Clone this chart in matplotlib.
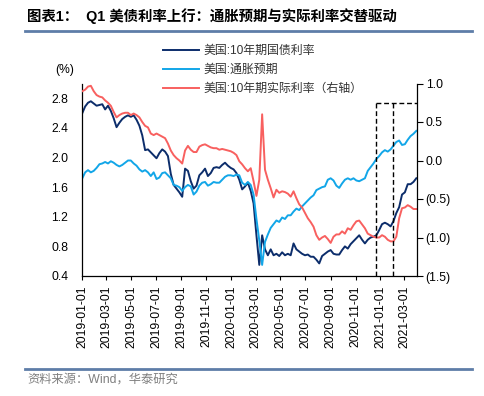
import pandas as pd
import matplotlib
matplotlib.use("Agg")
import matplotlib.pyplot as plt
import matplotlib.dates as mdates
from matplotlib.lines import Line2D

plt.rcParams['font.family'] = ['Liberation Sans', 'Noto Sans CJK SC']

# weekly readings, 2019-01-01 .. 2021-03-30
dates = pd.date_range('2019-01-01', periods=118, freq='7D')

nominal = [2.60, 2.69, 2.74, 2.76, 2.73, 2.70, 2.71, 2.72, 2.65, 2.70,
           2.63, 2.53, 2.41, 2.47, 2.52, 2.55, 2.57, 2.55, 2.57, 2.51,
           2.43, 2.30, 2.10, 2.11, 2.07, 2.03, 1.99, 2.06, 2.11,
           2.08, 2.02, 1.78, 1.63, 1.58, 1.53, 1.47, 1.85, 1.82, 1.68, 1.58,
           1.62, 1.76, 1.80, 1.85, 1.75, 1.79, 1.86, 1.87, 1.86, 1.90,
           1.93, 1.89, 1.86, 1.84, 1.79, 1.70, 1.57, 1.61, 1.66,
           1.55, 1.38, 0.95, 0.55, 0.95, 0.76, 0.68, 0.76, 0.68, 0.70,
           0.67, 0.72, 0.68, 0.70, 0.68, 0.84, 0.76, 0.73, 0.70, 0.68,
           0.69, 0.66, 0.66, 0.62, 0.57, 0.67, 0.70, 0.73, 0.75, 0.70,
           0.69, 0.69, 0.75, 0.80, 0.77, 0.83, 0.87, 0.91, 0.95, 0.89,
           0.84, 0.89, 0.92, 0.93, 0.95, 1.02, 1.10, 1.12, 1.10, 1.07,
           1.14, 1.25, 1.33, 1.50, 1.53, 1.64, 1.64, 1.67, 1.72]

breakeven = [1.72, 1.80, 1.83, 1.80, 1.82, 1.86, 1.91, 1.92, 1.94, 1.92,
             1.95, 1.93, 1.90, 1.88, 1.90, 1.93, 1.96, 1.96, 1.92, 1.89,
             1.84, 1.81, 1.83, 1.80, 1.75, 1.80, 1.71, 1.73, 1.79,
             1.80, 1.76, 1.72, 1.63, 1.62, 1.60, 1.55, 1.60, 1.63, 1.61, 1.50,
             1.54, 1.62, 1.66, 1.67, 1.62, 1.64, 1.67, 1.66, 1.66, 1.70,
             1.74, 1.76, 1.76, 1.75, 1.77, 1.76, 1.66, 1.63, 1.67,
             1.63, 1.50, 1.17, 0.88, 0.55, 0.86, 0.96, 1.05, 1.10, 1.15,
             1.13, 1.19, 1.17, 1.22, 1.22, 1.27, 1.31, 1.29, 1.34, 1.38,
             1.42, 1.46, 1.49, 1.56, 1.58, 1.60, 1.61, 1.70, 1.72, 1.69,
             1.62, 1.59, 1.65, 1.70, 1.72, 1.70, 1.72, 1.69, 1.68, 1.70,
             1.72, 1.82, 1.87, 1.92, 1.98, 2.02, 2.07, 2.10, 2.08, 2.11,
             2.16, 2.21, 2.23, 2.17, 2.18, 2.24, 2.29, 2.32, 2.36]

real_rate = [0.90, 0.92, 0.96, 0.97, 0.90, 0.85, 0.83, 0.82, 0.78, 0.75,
             0.71, 0.63, 0.56, 0.59, 0.61, 0.62, 0.62, 0.59, 0.61, 0.59,
             0.56, 0.50, 0.45, 0.43, 0.35, 0.33, 0.35, 0.33, 0.31,
             0.29, 0.22, 0.13, 0.07, 0.03, 0.00, -0.04, 0.13, 0.19, 0.14, 0.11,
             0.11, 0.18, 0.20, 0.21, 0.19, 0.17, 0.16, 0.16, 0.14, 0.15,
             0.14, 0.13, 0.12, 0.10, 0.07, -0.01, -0.05, -0.10, -0.14,
             -0.10, -0.27, -0.46, -0.25, 0.60, -0.12, -0.25, -0.36, -0.48, -0.38,
             -0.42, -0.40, -0.41, -0.43, -0.47, -0.40, -0.49, -0.57, -0.61, -0.68,
             -0.75, -0.80, -0.86, -0.97, -1.03, -1.00, -0.98, -1.02, -1.07, -0.99,
             -0.96, -0.96, -0.92, -0.95, -0.88, -0.90, -0.84, -0.79, -0.78, -0.83,
             -0.88, -0.95, -0.97, -0.99, -1.00, -1.00, -0.97, -0.99, -1.03, -1.05,
             -1.05, -0.99, -0.75, -0.62, -0.61, -0.58, -0.60, -0.63, -0.63]

labels = ['美国:10年期国债利率', '美国:通胀预期', '美国:10年期实际利率（右轴）']
left_ticks = [0.4, 0.8, 1.2, 1.6, 2.0, 2.4, 2.8]
right_ticks = [1.0, 0.5, 0.0, -0.5, -1.0, -1.5]
right_labels = ['1.0', '0.5', '0.0', '(0.5)', '(1.0)', '(1.5)']

# dashed box marking Q1 2021
box_start = pd.Timestamp('2020-12-22')
box_mid = pd.Timestamp('2021-02-01')
box_top = 0.75
x_end = pd.Timestamp('2021-03-31')

W, H = 485, 396
fig = plt.figure(figsize=(W / 100, H / 100), dpi=100)
ax = fig.add_axes([82.3 / W, 1 - 276 / H, (416.7 - 82.3) / W, (276 - 83.5) / H])
ax2 = ax.twinx()

l1, = ax.plot(dates, nominal, color='#0C2D6B', lw=1.4)
l2, = ax.plot(dates, breakeven, color='#12A6E8', lw=1.4)
l3, = ax2.plot(dates, real_rate, color='#F8605F', lw=1.4)

dash = dict(color='black', lw=1.0, ls=(0, (3.5, 2)))
ax2.plot([box_start, box_start], [-1.5, box_top], **dash)
ax2.plot([box_mid, box_mid], [-1.5, box_top], **dash)
ax2.plot([box_start, x_end], [box_top, box_top], **dash)

ax.set_xlim(dates[0], x_end)
ax.set_ylim(0.4, 3.0)
ax2.set_ylim(-1.5, 1.0)

ax.set_yticks(left_ticks)
ax.set_yticklabels([f'{t:.1f}' for t in left_ticks])
ax2.set_yticks(right_ticks)
ax2.set_yticklabels(right_labels)

ax.xaxis.set_major_locator(mdates.MonthLocator(bymonth=[1, 3, 5, 7, 9, 11]))
ax.xaxis.set_major_formatter(mdates.DateFormatter('%Y-%m-%d'))

ax.tick_params(axis='y', length=0, pad=10, labelsize=8.7)
ax.tick_params(axis='x', length=3, width=0.8, pad=4, labelsize=8.7, labelrotation=90)
ax2.tick_params(axis='y', length=4, width=0.8, pad=2.5, labelsize=8.7)

for a in (ax, ax2):
    a.spines['top'].set_visible(False)
    for s in a.spines.values():
        s.set_linewidth(0.9)
ax.spines['right'].set_visible(False)
ax2.spines['left'].set_visible(False)
ax2.spines['bottom'].set_visible(False)

fig.legend([l1, l2, l3], labels, loc='upper left',
           bbox_to_anchor=(162.7 / W, 1 - 45 / H), frameon=False,
           fontsize=8.6, handlelength=3.0, handletextpad=0.4,
           labelspacing=0.58, borderpad=0, borderaxespad=0,
           labelcolor='#333333')

fig.text(55 / W, 1 - 70 / H, '(%)', fontsize=8.7, va='center')

fig.text(27 / W, 1 - 16 / H, '图表1：  Q1 美债利率上行：通胀预期与实际利率交替驱动',
         fontsize=10.4, fontweight='bold', va='center')
fig.text(27 / W, 1 - 380 / H, '资料来源：Wind，华泰研究', fontsize=8.8,
         color='#7F7F7F', va='center')

for y in (31, 369):
    fig.add_artist(Line2D([25 / W, 472 / W], [1 - y / H, 1 - y / H],
                          transform=fig.transFigure, color='#5E7DA8', lw=2))

fig.savefig('out.png', dpi=100)
